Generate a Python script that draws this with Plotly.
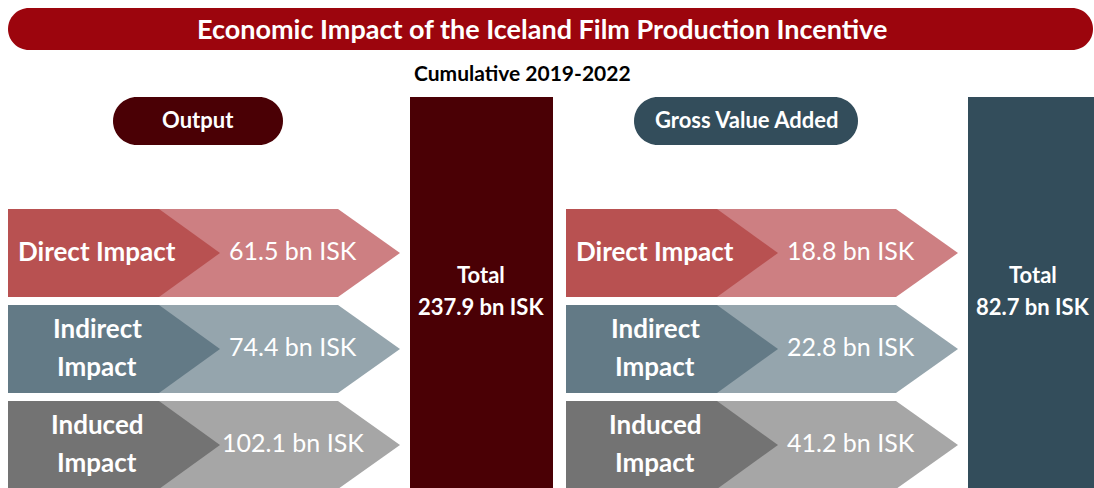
import plotly.graph_objects as go

# ---- data ----
impact_labels = ["Direct Impact", "Indirect<br>Impact", "Induced<br>Impact"]
output_values = [61.5, 74.4, 102.1]
gva_values = [18.8, 22.8, 41.2]
panel_titles = ["Output", "Gross Value Added"]
panel_totals = [237.9, 82.7]
unit = "bn ISK"
title = "Economic Impact of the Iceland Film Production Incentive"
subtitle = "Cumulative 2019-2022"

# ---- styles ----
W, H = 1094, 488
FONT = "Lato"
dark_cols = ["#b85151", "#637a86", "#737373"]
light_cols = ["#cd7f82", "#95a5ad", "#a6a6a6"]
panel_cols = ["#4a0005", "#334d5b"]
banner_col = "#9c050d"

fig = go.Figure()
shapes = []
annotations = []


def pill(x0, x1, y0, y1, color):
    r = (y1 - y0) / 2
    k = 0.5523 * r
    ym = (y0 + y1) / 2
    p = (f"M {x0+r},{y0} L {x1-r},{y0} "
         f"C {x1-r+k},{y0} {x1},{ym-k} {x1},{ym} "
         f"C {x1},{ym+k} {x1-r+k},{y1} {x1-r},{y1} "
         f"L {x0+r},{y1} "
         f"C {x0+r-k},{y1} {x0},{ym+k} {x0},{ym} "
         f"C {x0},{ym-k} {x0+r-k},{y0} {x0+r},{y0} Z")
    return dict(type="path", path=p, fillcolor=color, line=dict(width=0),
                xref="x", yref="y", layer="below")


def arrow(x0, xr, xt, y0, y1, color):
    ym = (y0 + y1) / 2
    p = f"M {x0},{y0} L {xr},{y0} L {xt},{ym} L {xr},{y1} L {x0},{y1} Z"
    return dict(type="path", path=p, fillcolor=color, line=dict(width=0),
                xref="x", yref="y", layer="below")


def txt(x, y, s, size, bold=False, color="white"):
    return dict(x=x, y=y, xref="x", yref="y", text=f"<b>{s}</b>" if bold else s,
                showarrow=False, font=dict(family=FONT, size=size, color=color),
                xanchor="center", yanchor="middle", align="center")


def multiline(x, ymid, s, size, spacing, bold=False):
    lines = s.split("<br>")
    n = len(lines)
    out = []
    for i, ln in enumerate(lines):
        y = ymid + (i - (n - 1) / 2) * spacing
        out.append(txt(x, y, ln, size, bold=bold))
    return out


# banner
shapes.append(pill(8, 1093, 8, 50, banner_col))
annotations.append(txt(542, 28, title, 27, bold=True))
annotations.append(txt(522, 72, subtitle, 21, bold=True, color="black"))

row_tops = [209, 305, 401]
row_h = 88
for pi, (vals, offset) in enumerate(zip([output_values, gva_values], [0, 558])):
    # panel header pill
    px0, px1 = (113, 283) if pi == 0 else (634, 858)
    shapes.append(pill(px0, px1, 97, 145, panel_cols[pi]))
    annotations.append(txt((px0 + px1) / 2, 119, panel_titles[pi], 22, bold=True))
    # total bar
    tx0 = 410 + offset
    tx1 = 553 + offset if pi == 0 else W + 5
    shapes.append(dict(type="rect", x0=tx0, x1=tx1, y0=97, y1=H + 5,
                       fillcolor=panel_cols[pi], line=dict(width=0),
                       xref="x", yref="y", layer="below"))
    tcx = 481 + offset if pi == 0 else 1033
    annotations += multiline(tcx, 290, f"Total<br>{panel_totals[pi]:.1f} {unit}", 22, 32, bold=True)
    for ri, (lab, v) in enumerate(zip(impact_labels, vals)):
        y0 = row_tops[ri]
        y1 = y0 + row_h
        ym = y0 + row_h / 2
        shapes.append(arrow(8 + offset, 338 + offset, 400 + offset, y0, y1, light_cols[ri]))
        shapes.append(arrow(8 + offset, 159 + offset, 220 + offset, y0, y1, dark_cols[ri]))
        annotations += multiline(97 + offset, ym - 2, lab, 26, 38, bold=True)
        annotations.append(txt(293 + offset, ym - 3, f"{v:.1f} {unit}", 25))

fig.update_layout(
    width=W, height=H,
    margin=dict(l=0, r=0, t=0, b=0),
    paper_bgcolor="white", plot_bgcolor="white",
    xaxis=dict(range=[0, W], visible=False, fixedrange=True),
    yaxis=dict(range=[H, 0], visible=False, fixedrange=True),
    shapes=shapes, annotations=annotations, showlegend=False,
)
fig.write_html("out.html", config={"displayModeBar": False},
               post_script="document.body.style.margin='0';document.body.style.overflow='hidden';")
